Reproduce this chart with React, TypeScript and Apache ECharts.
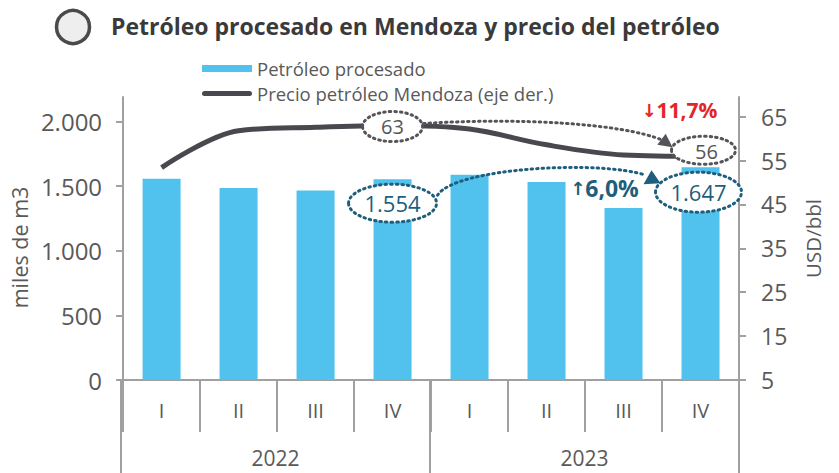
import React, { useEffect, useRef } from "react";
import * as echarts from "echarts";

const quarters = ["I", "II", "III", "IV", "I", "II", "III", "IV"];
const years = ["2022", "2023"];
const processed = [1558, 1486, 1467, 1554, 1589, 1532, 1331, 1647];
const price = [53.4, 61.8, 62.6, 63, 62.2, 58.6, 56.3, 56];
const leftTicks = { min: 0, max: 2190, interval: 500 };
const rightTicks = { min: 5, max: 69.5, interval: 10 };
const seriesNames = ["Petróleo procesado", "Precio petróleo Mendoza (eje der.)"];
const titleText = "Petróleo procesado en Mendoza y precio del petróleo";
const priceFrom = { idx: 3, label: "63" };
const priceTo = { idx: 7, label: "56" };
const volFrom = { idx: 3, label: "1.554" };
const volTo = { idx: 7, label: "1.647" };
const priceChange = "11,7%";
const volChange = "6,0%";

const FONT = '"Open Sans", "Noto Sans", sans-serif';
const GREY = "#595959";
const AXIS = "#a0a0a0";
const TEAL = "#1d5f7c";
const DARK = "#555559";
const LINE = "#48484f";

const fmt = (v: number) => {
  const s = String(Math.round(v));
  return s.replace(/\B(?=(\d{3})+(?!\d))/g, ".");
};

export default function App() {
  const ref = useRef<HTMLDivElement>(null);
  useEffect(() => {
    if (!ref.current) return;
    const chart = echarts.init(ref.current, null, { renderer: "svg" });
    const gridBox = { left: 121, right: 100, top: 97, bottom: 93 };
    const option: any = {
      animation: false,
      textStyle: { fontFamily: FONT },
      title: {
        text: titleText,
        left: 106,
        top: 9,
        textStyle: { fontFamily: FONT, fontSize: 23, fontWeight: "bold", color: "#3a3a3a" },
      },
      legend: {
        orient: "vertical",
        left: 202,
        top: 59,
        padding: 0,
        itemWidth: 50,
        itemHeight: 7,
        itemGap: 6,
        symbolKeepAspect: true,
        textStyle: { fontFamily: FONT, fontSize: 18.5, color: GREY, lineHeight: 18 },
        data: [
          { name: seriesNames[0], icon: "rect", itemStyle: { color: "#51c1ee" } },
          {
            name: seriesNames[1],
            icon: "path://M2.5,0 L47.5,0 A2.5,2.5 0 0 1 47.5,5 L2.5,5 A2.5,2.5 0 0 1 2.5,0 Z",
            itemStyle: { color: LINE },
          },
        ],
      },
      grid: [
        { ...gridBox, containLabel: false },
        { ...gridBox, containLabel: false },
      ],
      xAxis: [
        {
          type: "category",
          gridIndex: 0,
          data: quarters,
          position: "bottom",
          axisLine: { show: true, lineStyle: { color: AXIS, width: 2 } },
          axisTick: { show: true, interval: 0, length: 52, lineStyle: { color: AXIS, width: 2 } },
          axisLabel: { interval: 0, margin: 20, fontSize: 20, color: GREY, fontFamily: FONT },
        },
        {
          type: "category",
          gridIndex: 1,
          data: years,
          position: "bottom",
          axisLine: { show: true, lineStyle: { color: AXIS, width: 2 } },
          axisTick: { show: true, interval: 0, length: 93, lineStyle: { color: AXIS, width: 2 } },
          axisLabel: { interval: 0, margin: 67, fontSize: 21, color: GREY, fontFamily: FONT, lineHeight: 22 },
        },
      ],
      yAxis: [
        {
          type: "value",
          gridIndex: 0,
          position: "left",
          min: leftTicks.min,
          max: leftTicks.max,
          interval: leftTicks.interval,
          name: "miles de m3",
          nameLocation: "middle",
          nameGap: 84,
          nameRotate: 90,
          nameTextStyle: { fontSize: 21.5, color: GREY, fontFamily: FONT, padding: [0, 0, 0, -18] },
          axisLine: { show: true, lineStyle: { color: AXIS, width: 2 } },
          axisTick: { show: true, length: 7, lineStyle: { color: AXIS, width: 2 } },
          axisLabel: {
            fontSize: 24,
            color: GREY,
            margin: 21,
            fontFamily: FONT,
            showMaxLabel: false,
            formatter: (v: number) => fmt(v),
          },
          splitLine: { show: false },
        },
        {
          type: "value",
          gridIndex: 0,
          position: "right",
          min: rightTicks.min,
          max: rightTicks.max,
          interval: rightTicks.interval,
          name: "USD/bbl",
          nameLocation: "middle",
          nameGap: 63,
          nameRotate: 90,
          nameTextStyle: { fontSize: 20.5, color: GREY, fontFamily: FONT },
          axisLine: { show: true, lineStyle: { color: AXIS, width: 2 } },
          axisTick: { show: true, length: 7, lineStyle: { color: AXIS, width: 2 } },
          axisLabel: { fontSize: 23, color: GREY, margin: 22, fontFamily: FONT, showMaxLabel: false },
          splitLine: { show: false },
        },
        { type: "value", gridIndex: 1, show: false },
      ],
      series: [
        {
          name: seriesNames[0],
          type: "bar",
          xAxisIndex: 0,
          yAxisIndex: 0,
          data: processed,
          barWidth: 38,
          itemStyle: { color: "#51c1ee" },
          z: 2,
        },
        {
          name: seriesNames[1],
          type: "line",
          xAxisIndex: 0,
          yAxisIndex: 1,
          data: price,
          smooth: 0.35,
          showSymbol: false,
          symbol: "none",
          lineStyle: { color: LINE, width: 5 },
          itemStyle: { color: LINE },
          z: 3,
        },
      ],
    };
    chart.setOption(option);

    const bp = (i: number, v: number) => chart.convertToPixel({ seriesIndex: 0 }, [i, v]) as number[];
    const lp = (i: number, v: number) => chart.convertToPixel({ seriesIndex: 1 }, [i, v]) as number[];

    const a63 = lp(priceFrom.idx, price[priceFrom.idx]);
    const a56 = lp(priceTo.idx, price[priceTo.idx]);
    const b4 = bp(volFrom.idx, processed[volFrom.idx]);
    const b8 = bp(volTo.idx, processed[volTo.idx]);

    const e63 = { cx: a63[0], cy: a63[1] + 1, rx: 30, ry: 15 };
    const e56 = { cx: a56[0] + 3, cy: a56[1] - 6, rx: 32, ry: 14 };
    const e1554 = { cx: b4[0], cy: b4[1] + 24, rx: 44, ry: 19 };
    const e1647 = { cx: b8[0] - 2, cy: b8[1] + 25, rx: 43, ry: 20 };

    const dotted = (color: string) => ({
      fill: "#ffffff",
      stroke: color,
      lineWidth: 3,
      lineDash: [1.5, 4],
      lineCap: "round",
    });
    const txt = (x: number, y: number, t: string, color: string, size: number) => ({
      type: "text",
      x,
      y,
      z: 120,
      style: {
        text: t,
        fill: color,
        fontSize: size,
        fontFamily: FONT,
        align: "center",
        verticalAlign: "middle",
        textAlign: "center",
        textVerticalAlign: "middle",
      },
    });

    const gStart = [e63.cx + e63.rx + 1, e63.cy - 3];
    const gTip = [e56.cx - 31, e56.cy - 3];
    const tStart = [e1554.cx + e1554.rx + 1, e1554.cy - 8];
    const tTip = [e1647.cx - 47, e1647.cy - 22];

    const graphics: any[] = [
      {
        type: "circle",
        shape: { cx: 73, cy: 27, r: 16.5 },
        style: { fill: "#eeeeee", stroke: "#4a4a4a", lineWidth: 3.5 },
      },
      {
        type: "bezierCurve",
        z: 105,
        shape: {
          x1: gStart[0],
          y1: gStart[1],
          cpx1: gStart[0] + 95,
          cpy1: gStart[1] - 6,
          cpx2: gTip[0] - 50,
          cpy2: gTip[1] - 24,
          x2: gTip[0] - 10,
          y2: gTip[1] - 7,
        },
        style: { fill: null, stroke: DARK, lineWidth: 3, lineDash: [1.5, 4], lineCap: "round" },
      },
      {
        type: "polygon",
        z: 106,
        shape: {
          points: [
            [gTip[0], gTip[1]],
            [gTip[0] - 15.2, gTip[1] - 2.4],
            [gTip[0] - 6.8, gTip[1] - 13.6],
          ],
        },
        style: { fill: DARK },
      },
      {
        type: "bezierCurve",
        z: 105,
        shape: {
          x1: tStart[0],
          y1: tStart[1],
          cpx1: tStart[0] + 18,
          cpy1: tStart[1] - 28,
          cpx2: tTip[0] - 50,
          cpy2: tTip[1] - 10,
          x2: tTip[0] - 6,
          y2: tTip[1] + 5,
        },
        style: { fill: null, stroke: TEAL, lineWidth: 3, lineDash: [1.5, 4], lineCap: "round" },
      },
      {
        type: "polygon",
        z: 106,
        shape: {
          points: [
            [tTip[0], tTip[1]],
            [tTip[0] - 8, tTip[1] + 14],
            [tTip[0] + 9, tTip[1] + 13],
          ],
        },
        style: { fill: TEAL },
      },
      { type: "ellipse", z: 110, shape: e63, style: dotted(DARK) },
      { type: "ellipse", z: 110, shape: e56, style: dotted(DARK) },
      { type: "ellipse", z: 110, shape: e1554, style: dotted(TEAL) },
      { type: "ellipse", z: 110, shape: e1647, style: dotted(TEAL) },
      txt(e63.cx, e63.cy, priceFrom.label, DARK, 20),
      txt(e56.cx + 3, e56.cy + 1, priceTo.label, DARK, 20),
      txt(e1554.cx, e1554.cy, volFrom.label, TEAL, 22),
      txt(e1647.cx, e1647.cy, volTo.label, TEAL, 22),
      {
        type: "text",
        x: e56.cx - 24,
        y: e56.cy - 40,
        z: 120,
        style: {
          text: "{a|↓}{b|" + priceChange + "}",
          align: "center",
          verticalAlign: "middle",
          textAlign: "center",
          textVerticalAlign: "middle",
          rich: {
            a: { fontSize: 18, fill: "#e3262b", color: "#e3262b", fontFamily: "DejaVu Sans", fontWeight: "bold" },
            b: { fontSize: 21, fill: "#e3262b", color: "#e3262b", fontFamily: FONT, fontWeight: "bold" },
          },
        },
      },
      {
        type: "text",
        x: e1647.cx - 94,
        y: e1647.cy - 4,
        z: 120,
        style: {
          text: "{a|↑}{b|" + volChange + "}",
          align: "center",
          verticalAlign: "middle",
          textAlign: "center",
          textVerticalAlign: "middle",
          rich: {
            a: { fontSize: 18, fill: TEAL, color: TEAL, fontFamily: "DejaVu Sans", fontWeight: "bold" },
            b: { fontSize: 23, fill: TEAL, color: TEAL, fontFamily: FONT, fontWeight: "bold" },
          },
        },
      },
    ];
    chart.setOption({ graphic: graphics });

    return () => chart.dispose();
  }, []);
  return <div ref={ref} style={{ width: 839, height: 473, position: "absolute", left: 0, top: 0 }} />;
}
